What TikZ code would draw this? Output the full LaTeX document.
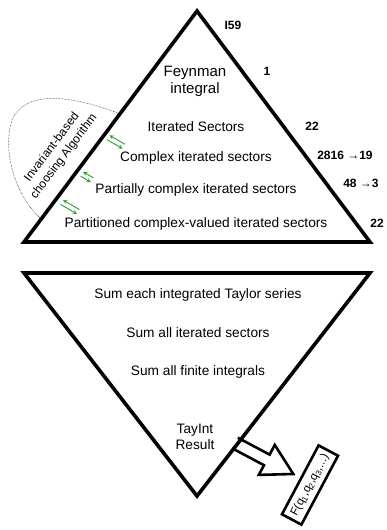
\documentclass[tikz,border=0pt]{standalone}
\usepackage{fontspec}
\setmainfont{Liberation Sans}
\definecolor{swapgreen}{RGB}{40,160,50}
\tikzset{
  txt/.style={font=\fontsize{13.7}{16.5}\selectfont,align=center},
  num/.style={font=\fontsize{12}{14}\selectfont\bfseries},
  tri/.style={line width=3.6pt,line join=miter},
  swap/.style={swapgreen,line width=0.9pt,-stealth}
}
\begin{document}
\begin{tikzpicture}[x=1pt,y=-1pt]
\useasboundingbox (0,0) rectangle (386,530);
% upper triangle and its levels
\draw[tri] (197,11)coordinate(apex)--(370,242)coordinate(br)
  --(24,242)coordinate(bl)--cycle;
\node[txt,font=\fontsize{15}{17}\selectfont] (feyn) at (195,81) {Feynman\\integral};
\foreach \y/\texn in {127/Iterated Sectors,
  158/Complex iterated sectors,
  190/Partially complex iterated sectors,
  224/Partitioned complex-valued iterated sectors} \path
  (196,\y)node[txt](lv\y){\texn};
\foreach \x/\y/\texn in {233/25/I59, 267/71/1, 312/126/22,
  345/155/2816 →19, 361/183/48 →3, 377/223/22} \path
  (\x,\y)node[num](n\y){\texn};
% swapping arrows along the left side
\foreach \x/\y/\l in {116/142/18, 87/177/12, 70/207/19}{
  \begin{scope}[shift={(\x,\y)},rotate=-30]
  \draw[swap] (\l/2,-2.5)--(-\l/2,-2.5);
  \draw[swap] (-\l/2,2.5)--(\l/2,2.5);
  \end{scope}}
% choosing algorithm
\coordinate (c1) at (118,113);
\coordinate (c2) at (40,218);
\draw[densely dotted,line width=0.5pt] (c1) .. controls (70,95) and (25,90) .. (12,120)
  .. controls (2,150) and (15,195) .. (c2);
\node[font=\fontsize{12}{15}\selectfont,align=center,rotate=53] (alg) at (58,152)
  {Invariant-based\\choosing Algorithm};
% result arrow, drawn first so the triangle edge closes it
\draw[line width=2.6pt,fill=white,line join=miter,shift={(235,443)},rotate=-28]
  (0,-6)--(36,-6)--(36,-17)--(66,0)--(36,17)--(36,6)--(0,6);
% lower triangle and its levels
\draw[tri] (24,273)coordinate(tl)--(370,273)coordinate(tr)
  --(197,496)coordinate(bot)--cycle;
\foreach \y/\texn in {295/Sum each integrated Taylor series,
  333/Sum all iterated sectors, 372/Sum all finite integrals} \path
  (198,\y)node[txt](sm\y){\texn};
\node[txt] (res) at (195,437) {TayInt\\Result};
\node[draw,line width=2.6pt,rotate=62,minimum width=78pt,minimum height=22pt,
  font=\fontsize{11.5}{13}\selectfont] (fq) at (310,485)
  {F(q\textsubscript{1},q\textsubscript{2},q\textsubscript{3},...)};
\end{tikzpicture}
\end{document}
